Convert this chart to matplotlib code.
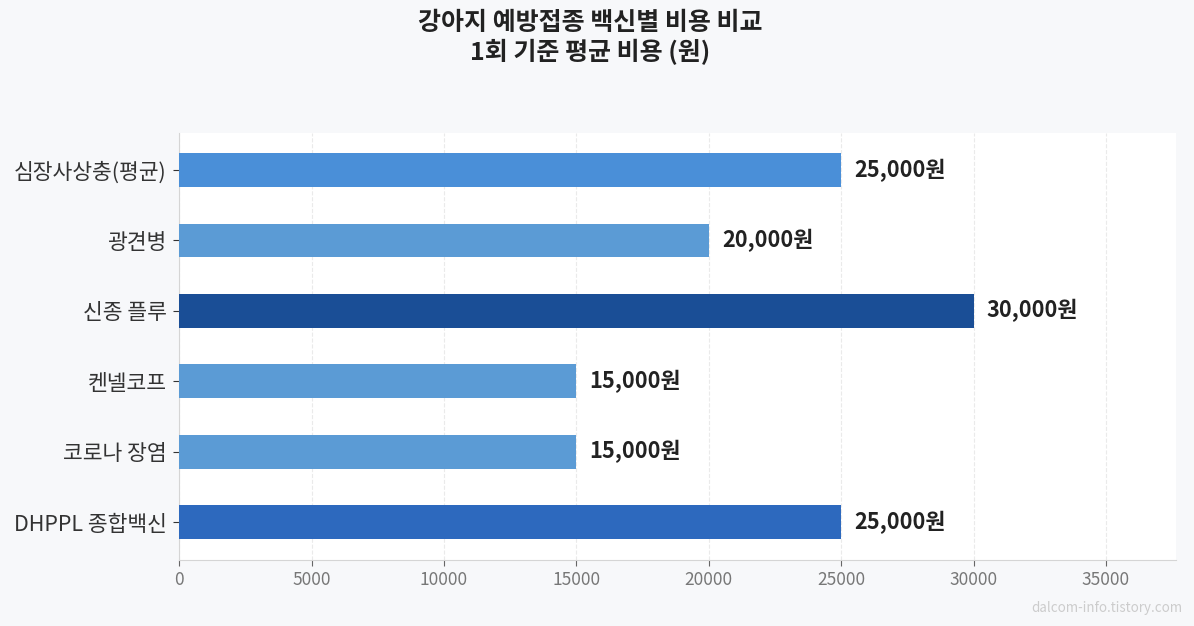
import matplotlib
matplotlib.use("Agg")
import matplotlib.pyplot as plt

plt.rcParams['font.family'] = ['Noto Sans CJK KR', 'DejaVu Sans']

# data (bottom to top)
vaccines = ["DHPPL 종합백신", "코로나 장염", "켄넬코프", "신종 플루", "광견병", "심장사상충(평균)"]
costs = [25000, 15000, 15000, 30000, 20000, 25000]
bar_colors = ["#2D69BE", "#5B9BD5", "#5B9BD5", "#1A4E96", "#5B9BD5", "#4A8FD8"]
x_ticks = [0, 5000, 10000, 15000, 20000, 25000, 30000, 35000]

fig = plt.figure(figsize=(11.94, 6.26), dpi=100)
fig.patch.set_facecolor("#F7F8FA")
ax = fig.add_axes([0.15, 0.105, 0.835, 0.683])
ax.set_facecolor("white")

ax.barh(range(len(vaccines)), costs, height=0.48, color=bar_colors, zorder=3)
for i, v in enumerate(costs):
    ax.text(v + 500, i, f"{v:,}원", va="center", ha="left",
            fontsize=15.7, fontweight="bold", color="#222222", zorder=4)

ax.set_yticks(range(len(vaccines)))
ax.set_yticklabels(vaccines, fontsize=15.5, color="#333333")
ax.set_xticks(x_ticks)
ax.set_xticklabels([str(t) for t in x_ticks], fontsize=12.5, color="#777777")
ax.set_xlim(0, max(costs) * 1.255)
ax.set_ylim(-0.54, 5.53)

ax.grid(axis="x", linestyle="--", color="#EAEAEA", linewidth=0.8, zorder=0)
ax.spines["top"].set_visible(False)
ax.spines["right"].set_visible(False)
ax.spines["left"].set_color("#D5D5D5")
ax.spines["bottom"].set_color("#D5D5D5")
ax.tick_params(axis="x", colors="#666666", length=4)
ax.tick_params(axis="y", colors="#333333", length=4, pad=5)
for lbl in ax.get_yticklabels():
    lbl.set_color("#333333")
for lbl in ax.get_xticklabels():
    lbl.set_color("#777777")

fig.text(0.494, 0.982, "강아지 예방접종 백신별 비용 비교\n1회 기준 평균 비용 (원)",
         ha="center", va="top", fontsize=18, fontweight="bold", color="#222222",
         linespacing=1.15)

fig.text(0.99, 0.018, "dalcom-info.tistory.com", ha="right", va="bottom",
         fontsize=9.6, color="#CCCCCC")

fig.savefig("out.png", dpi=100, facecolor=fig.get_facecolor())
